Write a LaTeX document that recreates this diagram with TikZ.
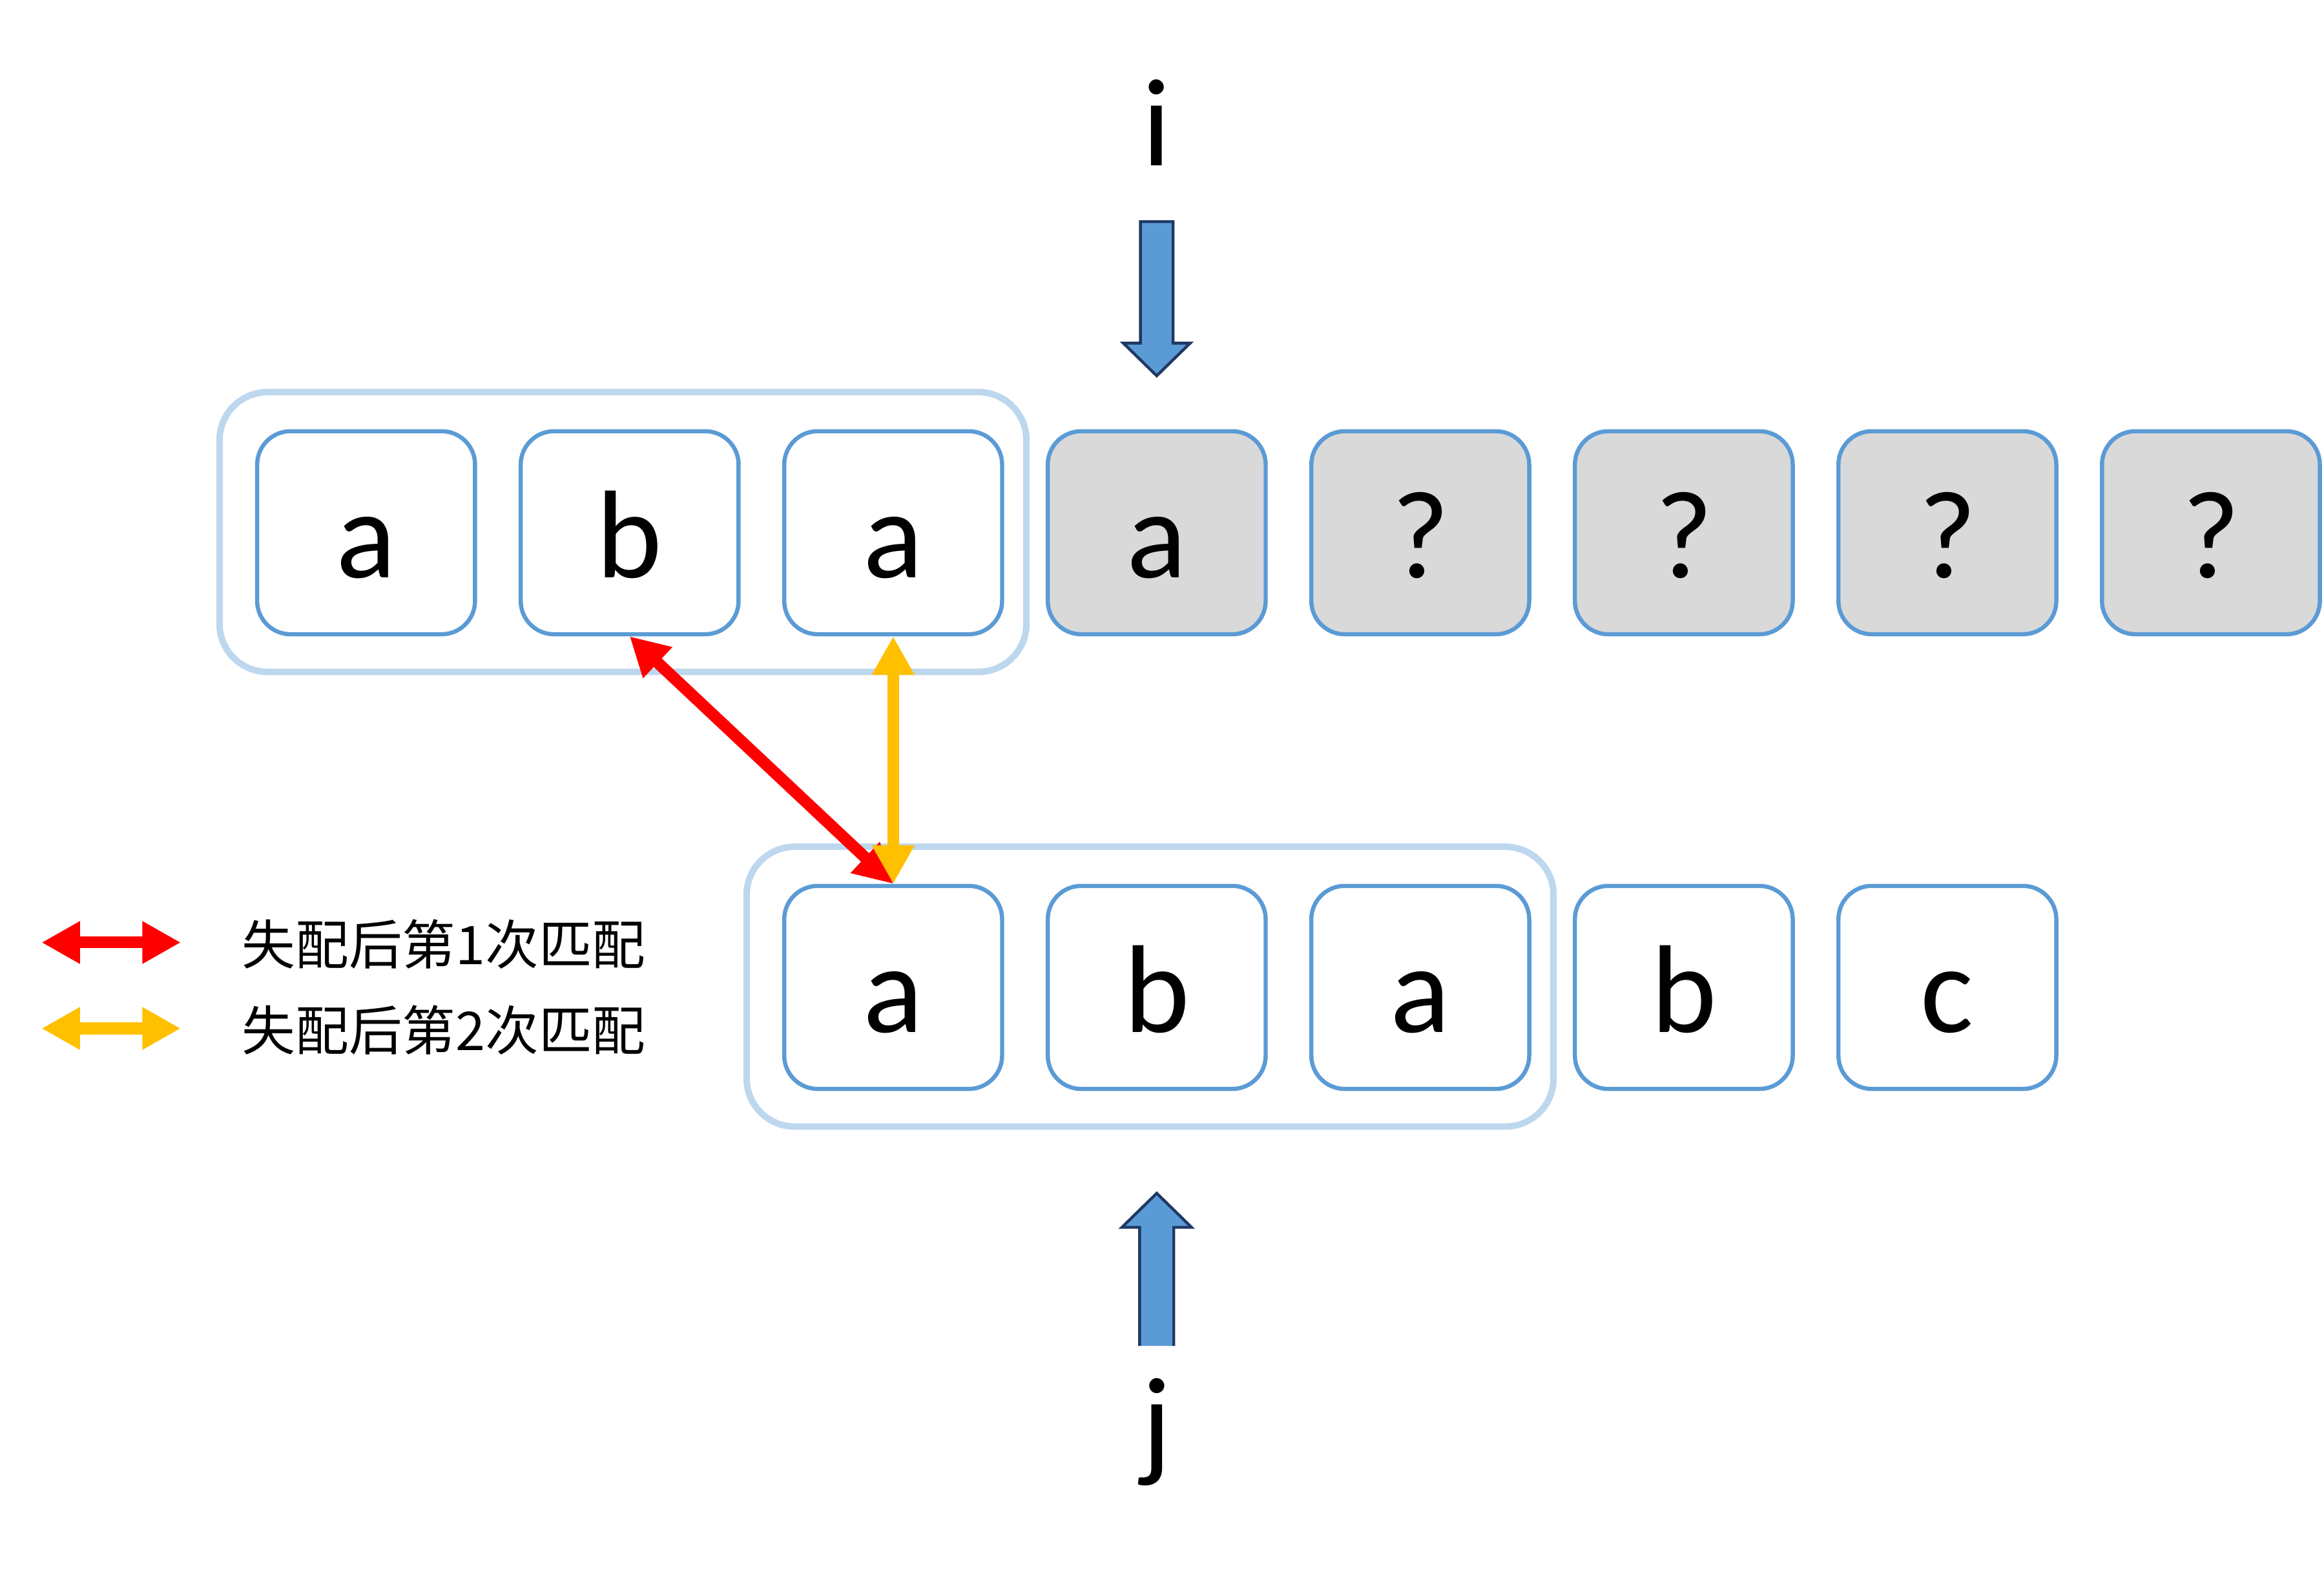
\documentclass[tikz,border=0pt]{standalone}
\usepackage{fontspec}
\setmainfont{Carlito}
\newfontfamily\cjk{Noto Sans CJK SC}
\usetikzlibrary{positioning, calc, arrows.meta}
\definecolor{boxblue}{HTML}{5B9BD5}
\definecolor{grpblue}{HTML}{BDD7EE}
\definecolor{cellgray}{HTML}{D9D9D9}
\definecolor{ptrline}{HTML}{203864}
\definecolor{matchred}{HTML}{FF0000}
\definecolor{matchyellow}{HTML}{FFC000}

\begin{document}
\begin{tikzpicture}[node distance=5.6mm,
	cell/.style={draw=boxblue, fill=white, line width=1.6pt, rounded corners=4.5mm, minimum width=2.94cm, minimum height=2.74cm, inner sep=0pt, text height=1.22cm, text depth=0pt, font=\fontsize{48}{56}\selectfont},
	unknown/.style={cell, fill=cellgray},
	group/.style={draw=grpblue, line width=2.5pt, rounded corners=6.5mm},
	pointer/.style={draw=ptrline, fill=boxblue, line width=1.1pt},
	letter/.style={font=\fontsize{48}{56}\selectfont, anchor=base, inner sep=0pt},
	match/.style={line width=4.5pt, {Triangle[width=5.4mm,length=5.2mm]}-{Triangle[width=5.4mm,length=5.2mm]}},
	legend/.style={font=\cjk\fontsize{20.5}{24}\selectfont, anchor=west, inner sep=0pt}]
	\useasboundingbox (0,0) rectangle (31.36,-21.31);
	\node[cell] (t1) at (4.94,-7.19) {a};
	\node[cell, right=of t1] (t2) {b};
	\node[cell, right=of t2] (t3) {a};
	\node[unknown, right=of t3] (t4) {a};
	\node[unknown, right=of t4] (t5) {?};
	\node[unknown, right=of t5] (t6) {?};
	\node[unknown, right=of t6] (t7) {?};
	\node[unknown, right=of t7] (t8) {?};
	\node[cell, below=3.34cm of t3] (b1) {a};
	\node[cell, right=of b1] (b2) {b};
	\node[cell, right=of b2] (b3) {a};
	\node[cell, right=of b3] (b4) {b};
	\node[cell, right=of b4] (b5) {c};
	\draw[group] ($(t1.north west)+(-0.48,0.5)$) rectangle ($(t3.south east)+(0.3,-0.48)$);
	\draw[group] ($(b1.north west)+(-0.48,0.5)$) rectangle ($(b3.south east)+(0.3,-0.48)$);
	\coordinate (itip) at ($(t4.north)+(0,0.72)$);
	\draw[pointer] (itip) -- ++(-0.45,0.44) -- ++(0.23,0) -- ++(0,1.64) -- ++(0.44,0) -- ++(0,-1.64) -- ++(0.23,0) -- cycle;
	\node[letter] (i) at ($(itip)+(0,2.84)$) {i};
	\coordinate (jtip) at ($(b2.south)+(0,-1.38)$);
	\filldraw[pointer] ($(jtip)+(-0.23,-2.06)$) -- ++(0,1.6) -- ++(-0.24,0) -- (jtip) -- ++(0.47,-0.46) -- ++(-0.24,0) -- ++(0,-1.6);
	\node[letter] (j) at ($(jtip)+(0,-3.66)$) {j};
	\draw[match, matchred] (t2.south) -- (b1.north);
	\draw[match, matchyellow] (t3.south) -- (b1.north);
	\coordinate (r1) at (0.56,-12.72);
	\coordinate (r2) at (2.44,-12.72);
	\draw[match, matchred] (r1) -- (r2);
	\node[legend] (lg1) at (3.26,-12.74) {失配后第1次匹配};
	\coordinate (y1) at (0.56,-13.88);
	\coordinate (y2) at (2.44,-13.88);
	\draw[match, matchyellow] (y1) -- (y2);
	\node[legend] (lg2) at (3.26,-13.9) {失配后第2次匹配};
\end{tikzpicture}
\end{document}
